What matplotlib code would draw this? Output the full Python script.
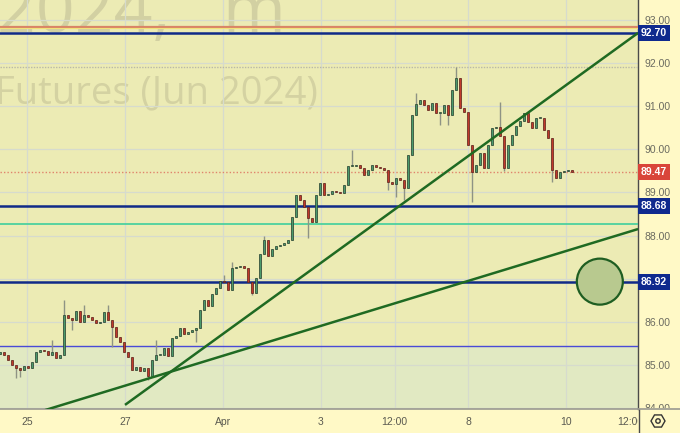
import matplotlib.pyplot as plt
import numpy as np
from matplotlib.patches import Rectangle, Ellipse, RegularPolygon, Circle
from matplotlib.lines import Line2D
from matplotlib.transforms import IdentityTransform, Bbox, TransformedBbox, blended_transform_factory

plt.rcParams['font.family'] = ['Liberation Sans', 'DejaVu Sans']

# ---------------- data ----------------
# closes of the bars (every ~2 hours), starting Mar 25
closes = [
    85.30, 85.23, 85.11, 85.00, 84.93, 84.88, 84.97, 84.93, 85.07, 85.30,
    85.34, 85.32, 85.23, 85.30, 85.16, 85.23, 86.16, 86.09, 86.04, 86.25,
    86.00, 86.16, 86.11, 86.04, 85.97, 86.00, 86.23, 86.04, 85.88, 85.65,
    85.53, 85.30, 85.18, 84.88, 84.95, 84.86, 84.93, 84.74, 85.11, 85.23,
    85.23, 85.39, 85.20, 85.62, 85.67, 85.85, 85.71, 85.76, 85.81, 85.85,
    86.27, 86.50, 86.36, 86.64, 86.78, 86.94, 86.92, 86.74, 87.25, 87.27,
    87.29, 87.25, 86.92, 86.67, 87.01, 87.57, 87.90, 87.52, 87.69, 87.76,
    87.78, 87.83, 87.90, 88.43, 88.94, 88.82, 88.66, 88.41, 88.31, 88.94,
    89.22, 88.94, 88.96, 89.03, 89.01, 88.99, 89.17, 89.61, 89.61, 89.64,
    89.57, 89.40, 89.52, 89.64, 89.59, 89.57, 89.52, 89.24, 89.20, 89.33,
    89.29, 89.10, 89.87, 90.80, 91.05, 91.14, 91.03, 90.91, 91.07, 90.84,
    90.84, 91.03, 90.80, 91.38, 91.65, 90.96, 90.87, 90.10, 89.47, 89.64,
    89.91, 89.57, 90.10, 90.49, 90.52, 90.31, 89.57, 90.10, 90.33, 90.54,
    90.66, 90.84, 90.63, 90.49, 90.73, 90.73, 90.45, 90.26, 89.52, 89.33,
    89.47, 89.50, 89.52, 89.47,
]
first_open = 85.25
# longer wicks seen on the chart (bar index -> price)
wick_highs = {13: 85.58, 16: 86.50, 21: 86.39, 27: 86.39, 39: 85.58, 56: 87.08,
              58: 87.38, 66: 88.00, 88: 89.98, 104: 91.31, 114: 91.91,
              117: 90.52, 125: 91.10}
wick_lows = {4: 84.69, 5: 84.72, 18: 85.81, 28: 85.41, 37: 84.65, 49: 85.53,
             63: 86.62, 77: 87.94, 97: 89.06, 99: 88.89, 101: 88.82,
             110: 90.56, 112: 90.56, 118: 88.78, 126: 89.50, 138: 89.24}

bar_start = -0.55      # trading days from Mar 25
bar_step = 4 / 49      # trading days per bar

x_ticks = [0, 2, 4, 6, 7.5, 9, 11, 12.31]
x_labels = ['25', '27', 'Apr', '3', '12:00', '8', '10', '12:00']
price_ticks = [84, 85, 86, 87, 88, 89, 90, 91, 92, 93]

marked_levels = [92.70, 88.68, 86.92]
last_price = 89.47
top_red_level = 92.845
high_marker = 91.92
teal_level = 88.27
blue_level = 85.44

trend_a_x, trend_a_y = [2.0, 12.47], [84.07, 92.70]
trend_b_x, trend_b_y = [0.37, 12.47], [83.95, 88.15]
zone_x, zone_y = 11.69, 86.93

# ---------------- figure ----------------
fig = plt.figure(figsize=(6.8, 4.33), dpi=100, facecolor='#fff9c6')
fig.patches.append(Rectangle((0, 24 / 433), 638 / 680, 409 / 433, transform=fig.transFigure,
                             fc='#ecebb4', ec='none', zorder=-1))
ax = fig.add_axes([0, 24 / 433, 638 / 680, 409 / 433])
ax.set_zorder(1)
ax.patch.set_alpha(0)
ax.set_xlim(-0.551, 12.469)
ax.set_ylim(83.975, 93.464)

ax.axhspan(83.975, blue_level, color='#e1e9c2', zorder=0, lw=0)

# grid
for p in price_ticks:
    ax.axhline(p, color='#d6dbcd', lw=0.9, zorder=1)
for t in x_ticks[:-1]:
    ax.axvline(t, color='#d6dbcd', lw=0.9, zorder=1)

# watermark
fig.text(-3 / 680, 1 - 32 / 433, '2024,   m', fontsize=49, color='#d2d0a2',
         family='Open Sans', va='baseline', ha='left', zorder=0.5)
fig.text(-5 / 680, 1 - 103 / 433, 'Futures (Jun 2024)', fontsize=27.5, color='#d4d2a2',
         family='Open Sans', va='baseline', ha='left', zorder=0.5)

# horizontal levels
ax.axhline(top_red_level, color='#d98566', lw=1.6, zorder=3)
ax.axhline(top_red_level - 0.04, color='#f2e27a', lw=0.8, zorder=3)
ax.axhline(high_marker, color='#b9b8a8', lw=1.0, ls=(0, (1, 1)), zorder=3)
ax.axhline(last_price, color='#e0846c', lw=1.0, ls=(0, (1, 1.5)), zorder=3)
ax.axhline(teal_level, color='#3fcf9c', lw=1.2, zorder=3)
ax.axhline(blue_level, color='#4a4ad6', lw=1.0, zorder=3)
for lv in marked_levels:
    ax.axhline(lv, color='#102a88', lw=1.8, zorder=3)

# candles
opens = [first_open] + closes[:-1]
w = bar_step * 0.7
for i, (o, c) in enumerate(zip(opens, closes)):
    t = bar_start + i * bar_step
    hi = wick_highs.get(i, max(o, c))
    lo = wick_lows.get(i, min(o, c))
    ax.vlines(t, lo, hi, color='#8e9384', lw=1.0, zorder=4)
    up = c >= o
    ax.add_patch(Rectangle((t - w / 2, min(o, c)), w, max(abs(c - o), 0.025),
                           fc='#4b9a6c' if up else '#c0392b',
                           ec='#253d2c' if up else '#5a2018', lw=0.5, zorder=5))

# trend lines
ax.plot(trend_a_x, trend_a_y, color='#1f6a22', lw=1.8, zorder=6, solid_capstyle='butt')
ax.plot(trend_b_x, trend_b_y, color='#1f6a22', lw=1.8, zorder=6, solid_capstyle='butt')

# target zone
ax.add_patch(Ellipse((zone_x, zone_y), 46 / 49, 46 / 43.1, fc='#b8c98f', ec='#1f5e22',
                     lw=1.6, zorder=7))

# axes styling
for s in ['top', 'left']:
    ax.spines[s].set_visible(False)
ax.spines['right'].set_color('#4a4a4a')
ax.spines['right'].set_linewidth(1.0)
ax.spines['bottom'].set_color('#9a9a90')
ax.spines['bottom'].set_linewidth(1.2)
# scale separators run to the picture edges
fig.add_artist(Line2D([638.5, 638.5], [0, 24], color='#4a4a4a', lw=1.0,
                      transform=IdentityTransform()))
fig.add_artist(Line2D([638, 680], [24, 24], color='#9a9a90', lw=1.2,
                      transform=IdentityTransform()))

ax.yaxis.tick_right()
ax.set_yticks(price_ticks)
# 87.00 sits under the 86.92 label on the scale
ax.set_yticklabels(['' if p == 87 else f'{p:.2f}' for p in price_ticks],
                   fontsize=7.5, color='#6b6b60')
ax.tick_params(axis='y', length=0, pad=5)
ax.set_xticks(x_ticks)
ax.set_xticklabels(x_labels, fontsize=7.5, color='#5a5a50')
ax.tick_params(axis='x', length=0, pad=6)

xclip = TransformedBbox(Bbox([[0, 0], [638 / 680, 1]]), fig.transFigure)
for lab in ax.get_xticklabels():
    lab.set_clip_box(xclip)
    lab.set_clip_on(True)
yclip = TransformedBbox(Bbox([[638 / 680, 25 / 433], [1, 1]]), fig.transFigure)
for lab in ax.get_yticklabels():
    lab.set_clip_box(yclip)
    lab.set_clip_on(True)

# price labels on the scale
trans = blended_transform_factory(ax.transAxes, ax.transData)
for lv in marked_levels + [last_price]:
    fc = '#d9453a' if lv == last_price else '#0f2a8e'
    ax.text(1.004, lv, f'{lv:.2f}', transform=trans, fontsize=7.5, fontweight='bold',
            color='white', ha='left', va='center', zorder=10, clip_on=False,
            bbox=dict(boxstyle='square,pad=0.28', fc=fc, ec='none'))

# settings icon
fig.add_artist(RegularPolygon((658, 12), 6, radius=7, orientation=np.pi / 6, fc='none',
                              ec='#333333', lw=1.0, transform=IdentityTransform()))
fig.add_artist(Circle((658, 12), 2.2, fc='none', ec='#333333', lw=1.0,
                      transform=IdentityTransform()))

fig.savefig('out.png', dpi=100, facecolor=fig.get_facecolor())
